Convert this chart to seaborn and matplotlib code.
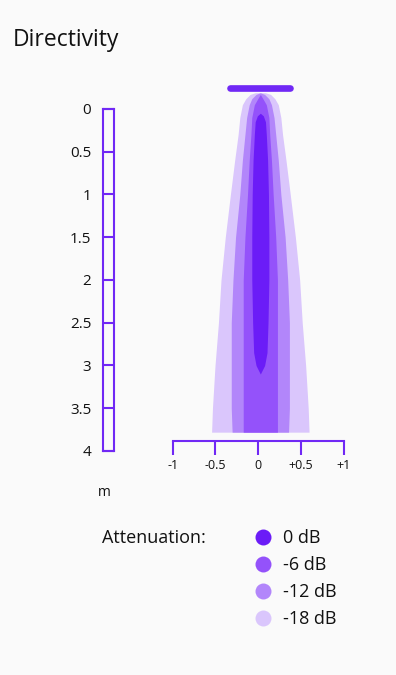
import seaborn as sns
import matplotlib.pyplot as plt
from matplotlib.lines import Line2D
import numpy as np

# ----------------------------------------------------
# Data: beam contour per attenuation level
# depth below the speaker (m) and half width of the beam (m)
# ----------------------------------------------------
levels = ["0 dB", "-6 dB", "-12 dB", "-18 dB"]
level_colors = ["#6b1cf7", "#9452fa", "#b286fa", "#dac6fc"]

depth = [-0.19, -0.17, -0.12, -0.05, 0.1, 0.3, 0.6, 1.0, 1.5, 2.0, 2.5, 3.0, 3.5, 3.78]
width_18 = [0.06, 0.12, 0.17, 0.21, 0.24, 0.26, 0.30, 0.35, 0.41, 0.46, 0.49, 0.53, 0.56, 0.57]
width_12 = [0.0, 0.05, 0.10, 0.13, 0.16, 0.18, 0.21, 0.24, 0.29, 0.32, 0.34, 0.34, 0.34, 0.33]
width_6 = [0.0, 0.0, 0.03, 0.07, 0.10, 0.11, 0.13, 0.15, 0.18, 0.20, 0.20, 0.20, 0.20, 0.20]

depth_0 = [0.05, 0.08, 0.15, 0.3, 0.6, 1.0, 1.5, 2.0, 2.5, 2.85, 3.0, 3.1]
width_0 = [0.0, 0.035, 0.06, 0.07, 0.085, 0.095, 0.10, 0.10, 0.09, 0.078, 0.05, 0.0]

beam_offset = 0.025
speaker_x = [-0.33, 0.37]
speaker_y = [-0.24, -0.24]

# scales
x_ticks = [-1, -0.5, 0, 0.5, 1]
x_labels = ["-1", "-0.5", "0", "+0.5", "+1"]
depth_ticks = [0, 0.5, 1, 1.5, 2, 2.5, 3, 3.5, 4]
depth_labels = ["0", "0.5", "1", "1.5", "2", "2.5", "3", "3.5", "4"]

# ----------------------------------------------------
# Style
# ----------------------------------------------------
sns.set_theme(style="white")
plt.rcParams["font.family"] = ["Open Sans", "DejaVu Sans"]
bg = "#fafafa"
purple = "#7028f5"
ink = "#111111"

fig = plt.figure(figsize=(3.96, 6.75), dpi=100, facecolor=bg)

# ----------------------------------------------------
# Beam plot with horizontal scale
# ----------------------------------------------------
ax = fig.add_axes([0.4361, 0.3467, 0.4318, 0.5348])
ax.set_facecolor("none")

outer = [(width_18, level_colors[3]), (width_12, level_colors[2]), (width_6, level_colors[1])]
for w, c in outer:
    w = np.array(w)
    ax.fill_betweenx(depth, beam_offset - w, beam_offset + w, color=c, lw=0)
w0 = np.array(width_0)
ax.fill_betweenx(depth_0, beam_offset - w0, beam_offset + w0, color=level_colors[0], lw=0)

sns.lineplot(x=speaker_x, y=speaker_y, ax=ax, color=purple, lw=4.8,
             solid_capstyle="round")

ax.set_xlim(-1, 1)
ax.set_ylim(3.883, -0.339)
for s in ["top", "left", "right"]:
    ax.spines[s].set_visible(False)
ax.spines["bottom"].set_color(purple)
ax.spines["bottom"].set_linewidth(1.5)
ax.set_xticks(x_ticks, x_labels)
ax.set_yticks([])
ax.tick_params(axis="x", bottom=True, direction="out", length=10, width=1.5,
               color=purple, labelsize=9, pad=3, labelcolor=ink)

# ----------------------------------------------------
# Depth scale bar
# ----------------------------------------------------
sax = fig.add_axes([0.2609, 0.3319, 0.0278, 0.5067])
sax.set_facecolor("none")
sax.set_ylim(4, 0)
sax.set_xticks([])
sax.set_yticks(depth_ticks, depth_labels)
sax.tick_params(axis="y", left=True, direction="in", length=7.9, width=1.5,
                color=purple, labelsize=11, pad=8.6, labelcolor=ink)
for s in sax.spines.values():
    s.set_visible(True)
    s.set_color(purple)
    s.set_linewidth(1.5)

# ----------------------------------------------------
# Texts and legend
# ----------------------------------------------------
fig.text(13 / 396, 1 - 40 / 675, "Directivity", fontsize=16.5, color=ink,
         ha="left", va="center")
fig.text(104 / 396, 1 - 493 / 675, "m", fontsize=10, color=ink,
         ha="center", va="center")
fig.text(102 / 396, 1 - 538 / 675, "Attenuation:", fontsize=13, color=ink,
         ha="left", va="center")

handles = [Line2D([], [], ls="none", marker="o", ms=11.5, mfc=c, mec="none")
           for c in level_colors]
fig.legend(handles, levels, loc="upper left",
           bbox_to_anchor=(253.7 / 396, 1 - 529 / 675), frameon=False,
           fontsize=13, labelcolor=ink, handlelength=1.0, handletextpad=0.6,
           labelspacing=0.5, borderpad=0, borderaxespad=0)

fig.savefig("out.png", dpi=100, facecolor=bg)
plt.close(fig)
